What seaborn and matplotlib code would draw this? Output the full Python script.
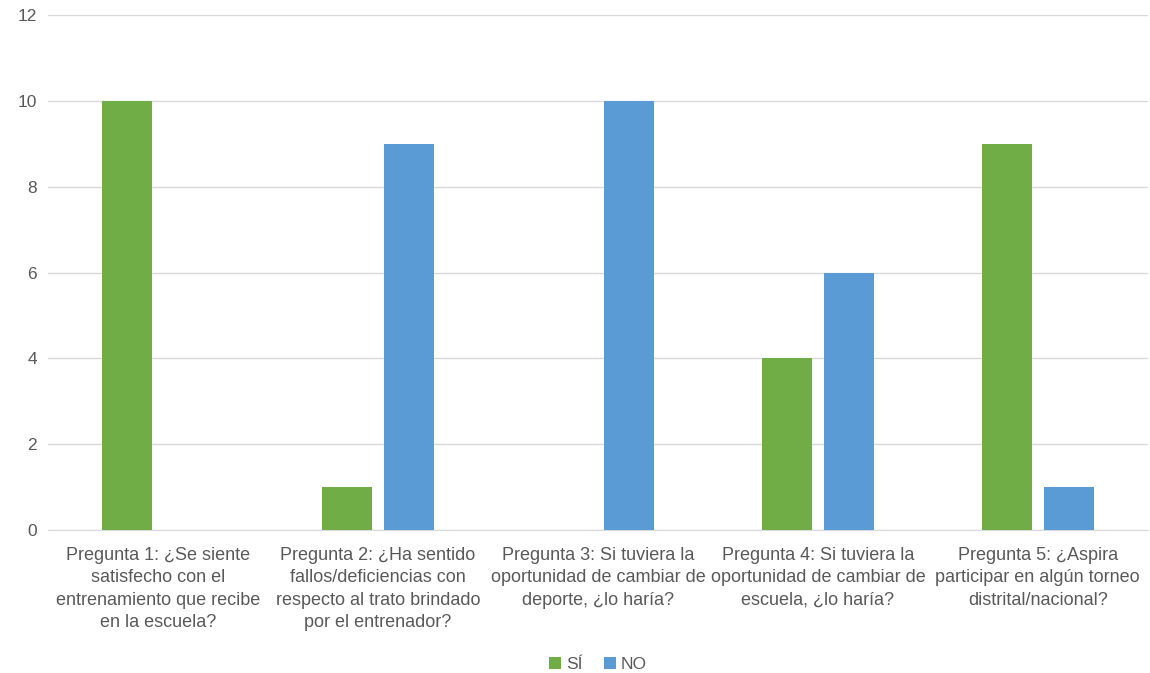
import matplotlib.pyplot as plt
import pandas as pd
import seaborn as sns

preguntas = [
    "Pregunta 1: ¿Se siente\nsatisfecho con el\nentrenamiento que recibe\nen la escuela?",
    "Pregunta 2: ¿Ha sentido\nfallos/deficiencias con\nrespecto al trato brindado\npor el entrenador?",
    "Pregunta 3: Si tuviera la\noportunidad de cambiar de\ndeporte, ¿lo haría?",
    "Pregunta 4: Si tuviera la\noportunidad de cambiar de\nescuela, ¿lo haría?",
    "Pregunta 5: ¿Aspira\nparticipar en algún torneo\ndistrital/nacional?",
]
si = [10, 1, 0, 4, 9]
no = [0, 9, 10, 6, 1]

df = pd.DataFrame({"pregunta": preguntas * 2,
                   "respuesta": ["SÍ"] * 5 + ["NO"] * 5,
                   "valor": si + no})

sns.set_style("white")
plt.rcParams['font.family'] = ['Liberation Sans', 'DejaVu Sans']

fig, ax = plt.subplots(figsize=(11.5, 6.73), dpi=100)
fig.subplots_adjust(left=0.042, right=0.998, top=0.978, bottom=0.212)

sns.barplot(data=df, x="pregunta", y="valor", hue="respuesta",
            palette={"SÍ": "#70AD47", "NO": "#5B9BD5"}, saturation=1,
            width=0.565, gap=0.2, linewidth=0, ax=ax, zorder=3)

ax.set_ylim(0, 12)
ax.set_yticks(range(0, 13, 2))
ax.set_xlim(-0.5, 4.5)
ax.grid(axis="y", color="#D9D9D9", linewidth=1, zorder=0)
ax.set_axisbelow(True)
for s in ["top", "right", "left"]:
    ax.spines[s].set_visible(False)
ax.spines["bottom"].set_color("#D9D9D9")
ax.tick_params(axis="both", length=0, labelsize=12.5, colors="#595959", pad=8)
ax.tick_params(axis="x", labelsize=13, pad=12)
for lbl in ax.get_xticklabels():
    lbl.set_linespacing(1.42)
ax.set_xlabel("")
ax.set_ylabel("")

ax.legend(loc="lower center", bbox_to_anchor=(0.5, -0.305), ncol=2, frameon=False,
          fontsize=12.5, labelcolor="#595959", handlelength=0.7, handleheight=0.7,
          handletextpad=0.3, columnspacing=1.2)

plt.savefig("out.png", dpi=100)
